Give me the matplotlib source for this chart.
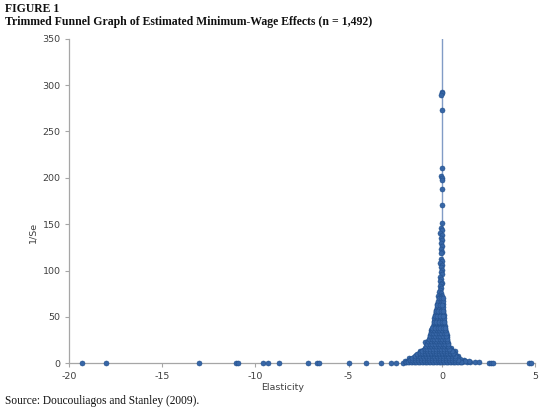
import matplotlib
matplotlib.use("Agg")
import matplotlib.pyplot as plt

plt.rcParams['axes.unicode_minus'] = False

# ---- data (elasticity, 1/Se) ----
# isolated estimates lying on / near the x axis
outlier_x = [-19.32, -18.03, -13.05, -11.03, -10.95, -9.6, -9.34, -8.72, -7.16, -6.71,
             -6.6, -4.96, -4.07, -3.26, -2.73, -2.46, -2.1, -1.93, 1.16, 1.34, 1.52,
             1.78, 2.0, 2.5, 2.62, 2.76, 4.69, 4.78]
outlier_y = [0.4, 0.4, 0.4, 0.4, 0.4, 0.4, 0.4, 0.4, 0.5, 0.5,
             0.5, 0.5, 0.6, 0.6, 0.7, 0.7, 0.8, 1.0, 2.8, 1.5, 1.2,
             1.0, 1.0, 0.8, 0.8, 0.8, 0.6, 0.6]

# precise estimates along the top of the funnel
spine_x = [-0.02, 0.0, -0.03, 0.0, 0.02, -0.05, 0.03, -0.02, 0.0, 0.02, 0.03, -0.05,
           0.0, -0.08, 0.02, -0.04, 0.03, -0.06, 0.0, -0.03, 0.02, -0.07, -0.04, 0.0,
           -0.08, 0.02, -0.05, 0.0, -0.03, 0.01, -0.08, -0.05, -0.1, 0.0, -0.07, -0.12,
           -0.03, -0.1, -0.15, -0.05, -0.12, -0.2, 0.02, -0.08]
spine_y = [293, 291, 289.5, 273.5, 211, 201.5, 199.5, 198, 187.5, 171, 151.5, 146,
           143.5, 141, 138, 135, 132.5, 130, 126, 123, 120.5, 119, 112, 110,
           108.5, 106, 104, 101, 98, 96, 93.5, 91, 89, 87, 85, 83,
           81, 79, 77, 76, 74, 72.5, 73, 71]

# body of the funnel, read row by row
body_y = [1.0, 2.5, 4.5, 6.5, 8.5, 10.5, 12.5, 14.5, 17, 19.5, 22, 25, 28, 31, 34,
          37, 40, 43, 46, 49, 52, 55, 58, 61, 64, 67, 70]
body_x = [
    [-1.9, -1.75, -1.6, -1.45, -1.3, -1.15, -1.0, -0.85, -0.7, -0.55, -0.4, -0.25, -0.1,
     0.05, 0.2, 0.35, 0.5, 0.65, 0.8, 0.95, 1.1],
    [-1.8, -1.65, -1.5, -1.35, -1.2, -1.05, -0.9, -0.75, -0.6, -0.45, -0.3, -0.15, 0.0,
     0.15, 0.3, 0.45, 0.6, 0.75, 0.9, 1.05, 1.25],
    [-1.65, -1.5, -1.35, -1.2, -1.05, -0.9, -0.75, -0.6, -0.45, -0.3, -0.15, 0.0, 0.15,
     0.3, 0.45, 0.6, 0.75, 0.95],
    [-1.5, -1.35, -1.2, -1.05, -0.9, -0.75, -0.6, -0.45, -0.3, -0.15, 0.0, 0.15, 0.3,
     0.45, 0.6, 0.8],
    [-1.4, -1.25, -1.1, -0.95, -0.8, -0.65, -0.5, -0.35, -0.2, -0.05, 0.1, 0.25, 0.4,
     0.55, 0.72],
    [-1.28, -1.12, -0.96, -0.8, -0.65, -0.5, -0.35, -0.2, -0.05, 0.1, 0.25, 0.4, 0.55, 0.68],
    [-1.15, -1.0, -0.85, -0.7, -0.55, -0.4, -0.25, -0.1, 0.05, 0.2, 0.35, 0.5, 0.6],
    [-1.0, -0.85, -0.7, -0.55, -0.4, -0.25, -0.1, 0.05, 0.2, 0.35, 0.47],
    [-0.88, -0.74, -0.6, -0.46, -0.32, -0.18, -0.04, 0.1, 0.24, 0.37],
    [-0.82, -0.68, -0.54, -0.4, -0.26, -0.12, 0.02, 0.16, 0.3],
    [-0.76, -0.62, -0.48, -0.34, -0.2, -0.06, 0.08, 0.22, 0.32],
    [-0.7, -0.56, -0.42, -0.28, -0.14, 0.0, 0.14, 0.28],
    [-0.66, -0.52, -0.38, -0.24, -0.1, 0.04, 0.18, 0.27],
    [-0.62, -0.48, -0.34, -0.2, -0.06, 0.08, 0.22],
    [-0.57, -0.43, -0.29, -0.15, -0.01, 0.13, 0.24],
    [-0.53, -0.39, -0.25, -0.11, 0.03, 0.17],
    [-0.48, -0.34, -0.2, -0.06, 0.08, 0.17],
    [-0.44, -0.3, -0.16, -0.02, 0.12],
    [-0.42, -0.28, -0.14, 0.0, 0.13],
    [-0.4, -0.26, -0.12, 0.02, 0.12],
    [-0.37, -0.23, -0.09, 0.05, 0.11],
    [-0.34, -0.2, -0.06, 0.08],
    [-0.32, -0.18, -0.04, 0.08],
    [-0.28, -0.14, 0.0, 0.07],
    [-0.24, -0.1, 0.04],
    [-0.2, -0.07, 0.05],
    [-0.16, -0.04, 0.04],
]

# in-between rows of the same body (staggered estimates)
mid_y = [1.8, 3.6, 5.6, 7.6, 9.6, 11.6, 13.6, 15.8, 18.3, 20.8, 23.6, 26.6, 29.6,
         32.6, 35.6, 38.6, 44.5, 50.5, 56.5, 62.5]
mid_x = [
    [-1.83, -1.68, -1.52, -1.38, -1.22, -1.08, -0.92, -0.78, -0.62, -0.48, -0.32, -0.18,
     -0.03, 0.12, 0.27, 0.42, 0.58, 0.72, 0.88, 1.02],
    [-1.72, -1.58, -1.42, -1.28, -1.12, -0.98, -0.82, -0.68, -0.52, -0.38, -0.22, -0.08,
     0.07, 0.22, 0.38, 0.52, 0.68, 0.85],
    [-1.58, -1.42, -1.28, -1.12, -0.98, -0.82, -0.68, -0.52, -0.38, -0.22, -0.08, 0.07,
     0.22, 0.38, 0.52, 0.7],
    [-1.45, -1.3, -1.15, -1.0, -0.85, -0.7, -0.55, -0.4, -0.25, -0.1, 0.05, 0.2, 0.35,
     0.52, 0.68],
    [-1.33, -1.18, -1.03, -0.88, -0.73, -0.58, -0.43, -0.28, -0.13, 0.02, 0.17, 0.32,
     0.48, 0.62],
    [-1.2, -1.05, -0.9, -0.75, -0.6, -0.45, -0.3, -0.15, 0.0, 0.15, 0.3, 0.45, 0.58],
    [-1.08, -0.93, -0.78, -0.63, -0.48, -0.33, -0.18, -0.03, 0.12, 0.27, 0.42, 0.52],
    [-0.93, -0.78, -0.63, -0.48, -0.33, -0.18, -0.03, 0.12, 0.27, 0.4],
    [-0.85, -0.71, -0.57, -0.43, -0.29, -0.15, -0.01, 0.13, 0.27, 0.34],
    [-0.79, -0.65, -0.51, -0.37, -0.23, -0.09, 0.05, 0.19, 0.31],
    [-0.73, -0.59, -0.45, -0.31, -0.17, -0.03, 0.11, 0.25],
    [-0.68, -0.54, -0.4, -0.26, -0.12, 0.02, 0.16, 0.26],
    [-0.64, -0.5, -0.36, -0.22, -0.08, 0.06, 0.2],
    [-0.6, -0.46, -0.32, -0.18, -0.04, 0.1, 0.23],
    [-0.55, -0.41, -0.27, -0.13, 0.01, 0.15],
    [-0.51, -0.37, -0.23, -0.09, 0.05, 0.16],
    [-0.43, -0.29, -0.15, -0.01, 0.11],
    [-0.38, -0.24, -0.1, 0.04],
    [-0.33, -0.19, -0.05, 0.07],
    [-0.26, -0.12, 0.02],
]

# scattered points on the edges of the funnel
edge_x = [-0.9, -1.2, 0.7, 0.85, 1.2, 1.45, -2.0, -1.75, 0.5, -0.3, -0.6, 0.3]
edge_y = [23, 13, 13.5, 7.5, 4, 3, 2, 5.5, 16, 55, 36, 30]

x_ticks = [-20, -15, -10, -5, 0, 5]
y_ticks = [0, 50, 100, 150, 200, 250, 300, 350]

# ---- assemble ----
xs = list(outlier_x) + list(spine_x) + list(edge_x)
ys = list(outlier_y) + list(spine_y) + list(edge_y)
for yv, row in list(zip(body_y, body_x)) + list(zip(mid_y, mid_x)):
    xs += row
    ys += [yv] * len(row)

fig = plt.figure(figsize=(5.49, 4.13), dpi=100)
ax = fig.add_axes([0.1257, 0.1203, 0.849, 0.786])

ax.plot([0, 0], [0, 350], color='#819cc6', lw=1.0, zorder=1)
ax.scatter(xs, ys, s=13, facecolor='#3766a6', edgecolor='#214f8c', linewidths=0.4,
           zorder=3, clip_on=False)

ax.set_xlim(-20, 5)
ax.set_ylim(0, 350)
ax.set_xticks(x_ticks)
ax.set_yticks(y_ticks)
ax.set_xticklabels([str(t) for t in x_ticks])
ax.set_yticklabels([str(t) for t in y_ticks])

for s in ['top', 'right']:
    ax.spines[s].set_visible(False)
for s in ['left', 'bottom']:
    ax.spines[s].set_color('#a6a6a6')
    ax.spines[s].set_linewidth(0.9)
ax.tick_params(axis='both', colors='#a6a6a6', length=3, width=0.8,
               labelsize=6.8, labelcolor='#404040', pad=3)

fig.text(283 / 549, 1 - 387 / 413, 'Elasticity', ha='center', va='center',
         fontsize=6.8, color='#404040')
fig.text(33 / 549, 1 - 232 / 413, '1/Se', ha='center', va='center', rotation=90,
         fontsize=6.8, color='#404040')

fig.text(5 / 549, 1 - 9 / 413, 'FIGURE 1', ha='left', va='center',
         family='Liberation Serif', weight='bold', fontsize=8.5, color='#111111')
fig.text(5 / 549, 1 - 22 / 413,
         'Trimmed Funnel Graph of Estimated Minimum-Wage Effects (n = 1,492)',
         ha='left', va='center', family='Liberation Serif', weight='bold',
         fontsize=8.5, color='#111111')
fig.text(5 / 549, 1 - 401 / 413, 'Source: Doucouliagos and Stanley (2009).',
         ha='left', va='center', family='Liberation Serif', fontsize=8.3,
         color='#111111')

fig.savefig('out.png', dpi=100)
